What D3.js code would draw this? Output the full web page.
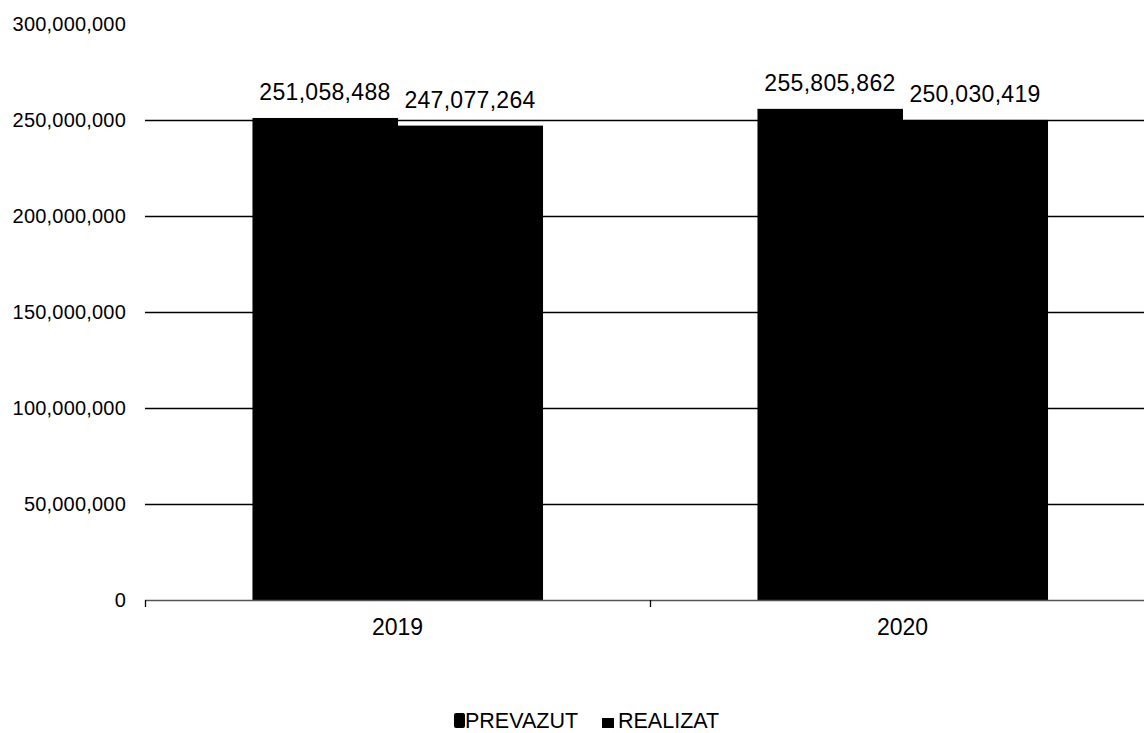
<!DOCTYPE html>
<html>
<head>
<meta charset="utf-8">
<script src="https://cdn.jsdelivr.net/npm/d3@7"></script>
<style>
  body { margin: 0; background: #fff; }
  text { font-family: "Liberation Sans", Arial, sans-serif; fill: #000; }
</style>
</head>
<body>
<div id="chart"></div>
<script>
const years = ['2019', '2020'];
const series = ['PREVAZUT', 'REALIZAT'];
const prevazut = [251058488, 255805862];
const realizat = [247077264, 250030419];
const yTicks = [0, 50000000, 100000000, 150000000, 200000000, 250000000, 300000000];

const width = 1144;
const height = 733;

const svg = d3.select('#chart').append('svg')
  .attr('width', width)
  .attr('height', height);

const x0 = d3.scaleBand()
  .domain(years)
  .range([145, 1155])
  .padding(0);

const x1 = d3.scaleBand()
  .domain(series)
  .range([0, x0.bandwidth()])
  .paddingInner(0)
  .paddingOuter(0.741);

const y = d3.scaleLinear()
  .domain([0, 300000000])
  .range([600, 24]);

const fmt = d3.format(',');

// gridlines (not at 0 or top)
svg.selectAll('.grid')
  .data(yTicks.filter(d => d > 0 && d < 300000000))
  .enter()
  .append('line')
  .attr('x1', 145)
  .attr('x2', width)
  .attr('y1', d => Math.round(y(d)) + 0.5)
  .attr('y2', d => Math.round(y(d)) + 0.5)
  .attr('stroke', '#000')
  .attr('stroke-width', 1.3);

// y labels
svg.selectAll('.ylab')
  .data(yTicks)
  .enter()
  .append('text')
  .attr('x', 126)
  .attr('y', d => y(d))
  .attr('dy', '0.36em')
  .attr('text-anchor', 'end')
  .style('font-size', '20px')
  .style('letter-spacing', '0.2px')
  .text(d => fmt(d));

const rows = years.map((yr, i) => ({ year: yr, values: [prevazut[i], realizat[i]] }));

const groups = svg.selectAll('.grp')
  .data(rows)
  .enter()
  .append('g')
  .attr('transform', d => `translate(${x0(d.year)},0)`);

groups.selectAll('rect')
  .data(d => d.values.map((v, j) => ({ key: series[j], value: v })))
  .enter()
  .append('rect')
  .attr('x', d => x1(d.key))
  .attr('width', x1.bandwidth() + 0.5)
  .attr('y', d => y(d.value))
  .attr('height', d => y(0) - y(d.value))
  .attr('fill', '#000');

groups.selectAll('.vlab')
  .data(d => d.values.map((v, j) => ({ key: series[j], value: v })))
  .enter()
  .append('text')
  .attr('x', d => x1(d.key) + x1.bandwidth() / 2)
  .attr('y', d => y(d.value) - 18)
  .attr('text-anchor', 'middle')
  .style('font-size', '23px')
  .style('letter-spacing', '0.3px')
  .text(d => fmt(d.value));

// x axis
const xAxis = svg.append('g');
xAxis.append('line')
  .attr('x1', 145)
  .attr('x2', width)
  .attr('y1', 600.5)
  .attr('y2', 600.5)
  .attr('stroke', '#555')
  .attr('stroke-width', 1.3);

xAxis.selectAll('.tick')
  .data([145, 650, 1155])
  .enter()
  .append('line')
  .attr('x1', d => d + 0.5)
  .attr('x2', d => d + 0.5)
  .attr('y1', 600)
  .attr('y2', 607)
  .attr('stroke', '#000')
  .attr('stroke-width', 1.3);

xAxis.selectAll('.xlab')
  .data(years)
  .enter()
  .append('text')
  .attr('x', d => x0(d) + x0.bandwidth() / 2)
  .attr('y', 635)
  .attr('text-anchor', 'middle')
  .style('font-size', '23px')
  .text(d => d);

// legend
const legendX = [454, 602];
const legend = svg.selectAll('.leg')
  .data(series)
  .enter()
  .append('g')
  .attr('transform', (d, i) => `translate(${legendX[i]},713)`);

legend.append('rect')
  .attr('width', (d, i) => i === 0 ? 11 : 12)
  .attr('height', (d, i) => i === 0 ? 15 : 10)
  .attr('y', (d, i) => i === 0 ? 0 : 5)
  .attr('rx', (d, i) => i === 0 ? 2 : 0)
  .attr('fill', '#000');

legend.append('text')
  .attr('x', (d, i) => i === 0 ? 11 : 16)
  .attr('y', 15)
  .style('font-size', '21.5px')
  .text(d => d);
</script>
</body>
</html>
